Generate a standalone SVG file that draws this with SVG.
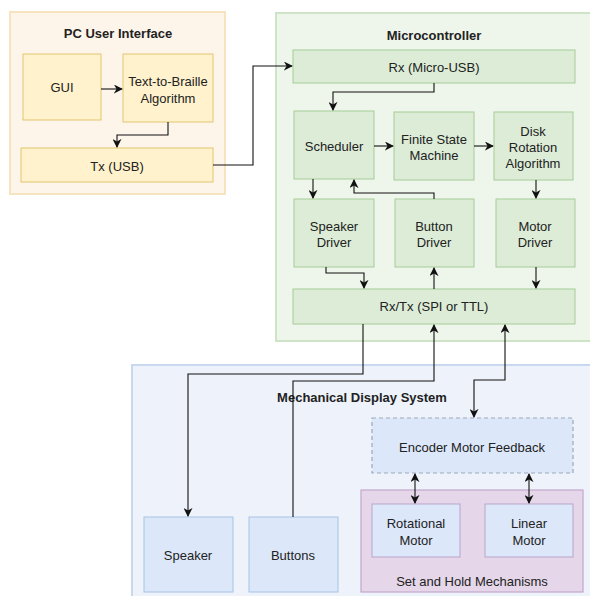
<svg xmlns="http://www.w3.org/2000/svg" width="590" height="596" viewBox="0 0 590 596">
<defs>
<style>
text{font-family:"Liberation Sans",Arial,sans-serif;font-size:13px;fill:#222;text-anchor:middle}
.title{font-weight:bold}
.pcC{fill:#fef5ea;stroke:#f7e3bf;stroke-width:2}
.pc{fill:#fff2cc;stroke:#e2c56e;stroke-width:1}
.mcC{fill:#eef5ea;stroke:#cfe4c6;stroke-width:2}
.mc{fill:#dcecd6;stroke:#a6cd98;stroke-width:1}
.mdC{fill:#eef2fb;stroke:#c8d8ee;stroke-width:2}
.md{fill:#dce8f9;stroke:#a8c2e4;stroke-width:1}
.enc{fill:#dce8f9;stroke:#99a9bd;stroke-width:1.2;stroke-dasharray:4 3}
.sh{fill:#e5d7e9;stroke:#c3a6ce;stroke-width:1.2}
.c{fill:none;stroke:#111;stroke-width:1.1}
</style>
<marker id="a" viewBox="0 0 10 10" refX="9" refY="5" markerWidth="9" markerHeight="9" orient="auto-start-reverse" markerUnits="userSpaceOnUse"><path d="M0,0 L10,5 L0,10 L3,5 z" fill="#111"/></marker>
</defs>
<rect width="590" height="596" fill="#fff"/>

<g id="pc-ui">
<rect class="pcC" x="10" y="12" width="215" height="182"/>
<text class="title" x="118" y="38">PC User Interface</text>
</g>
<g id="gui"><rect class="pc" x="23" y="54" width="78" height="66"/><text x="62" y="92">GUI</text></g>
<g id="t2b"><rect class="pc" x="123" y="54" width="90" height="68"/><text x="168" y="86">Text-to-Braille</text><text x="168" y="103">Algorithm</text></g>
<g id="tx"><rect class="pc" x="21" y="148" width="192" height="34"/><text x="117" y="171">Tx (USB)</text></g>

<g id="microcontroller">
<rect class="mcC" x="276" y="13" width="320" height="328"/>
<text class="title" x="434" y="40">Microcontroller</text>
</g>
<g id="rx"><rect class="mc" x="293" y="50" width="282" height="33"/><text x="434" y="72">Rx (Micro-USB)</text></g>
<g id="scheduler"><rect class="mc" x="294" y="111" width="80" height="68"/><text x="334" y="151">Scheduler</text></g>
<g id="fsm"><rect class="mc" x="394" y="112" width="80" height="68"/><text x="434" y="144">Finite State</text><text x="434" y="160">Machine</text></g>
<g id="disk"><rect class="mc" x="494" y="112" width="79" height="68"/><text x="533" y="136">Disk</text><text x="533" y="152">Rotation</text><text x="533" y="168">Algorithm</text></g>
<g id="speaker-driver"><rect class="mc" x="294" y="199" width="80" height="68"/><text x="334" y="231">Speaker</text><text x="334" y="247">Driver</text></g>
<g id="button-driver"><rect class="mc" x="395" y="199" width="79" height="68"/><text x="434" y="231">Button</text><text x="434" y="247">Driver</text></g>
<g id="motor-driver"><rect class="mc" x="496" y="199" width="79" height="68"/><text x="535" y="231">Motor</text><text x="535" y="247">Driver</text></g>
<g id="rxtx"><rect class="mc" x="293" y="289" width="282" height="35"/><text x="434" y="311">Rx/Tx (SPI or TTL)</text></g>

<g id="mechanical">
<rect class="mdC" x="132" y="365" width="470" height="240"/>
<text class="title" x="362" y="402">Mechanical Display System</text>
</g>
<g id="speaker"><rect class="md" x="144" y="517" width="89" height="75"/><text x="188" y="560">Speaker</text></g>
<g id="buttons"><rect class="md" x="249" y="517" width="89" height="75"/><text x="293" y="560">Buttons</text></g>
<g id="encoder"><rect class="enc" x="372" y="418" width="201" height="55"/><text x="472" y="452">Encoder Motor Feedback</text></g>
<g id="set-hold"><rect class="sh" x="361" y="490" width="222" height="102"/><text x="472" y="586">Set and Hold Mechanisms</text></g>
<g id="rot-motor"><rect class="md" x="372" y="504" width="88" height="53" style="stroke:#b9a3cc"/><text x="416" y="528">Rotational</text><text x="416" y="545">Motor</text></g>
<g id="lin-motor"><rect class="md" x="485" y="504" width="88" height="53" style="stroke:#b9a3cc"/><text x="529" y="528">Linear</text><text x="529" y="545">Motor</text></g>

<g id="connectors">
<path class="c" d="M101,89 H122" marker-end="url(#a)"/>
<path class="c" d="M168,122 V135 H117 V147" marker-end="url(#a)"/>
<path class="c" d="M213,165 H253 V66 H292" marker-end="url(#a)"/>
<path class="c" d="M434,83 V92 H333 V110" marker-end="url(#a)"/>
<path class="c" d="M374,146 H393" marker-end="url(#a)"/>
<path class="c" d="M474,146 H493" marker-end="url(#a)"/>
<path class="c" d="M313,179 V198" marker-end="url(#a)"/>
<path class="c" d="M434,199 V193 H354 V180" marker-end="url(#a)"/>
<path class="c" d="M536,180 V198" marker-end="url(#a)"/>
<path class="c" d="M326,267 V273 H364 V288" marker-end="url(#a)"/>
<path class="c" d="M434,289 V268" marker-end="url(#a)"/>
<path class="c" d="M536,267 V288" marker-end="url(#a)"/>
<path class="c" d="M363,324 V374 H188 V516" marker-end="url(#a)"/>
<path class="c" d="M293,517 V381 H434 V325" marker-end="url(#a)"/>
<path class="c" d="M505,325 V380 H474 V417" marker-start="url(#a)" marker-end="url(#a)"/>
<path class="c" d="M415,474 V503" marker-start="url(#a)" marker-end="url(#a)"/>
<path class="c" d="M529,474 V503" marker-start="url(#a)" marker-end="url(#a)"/>
</g>
</svg>
